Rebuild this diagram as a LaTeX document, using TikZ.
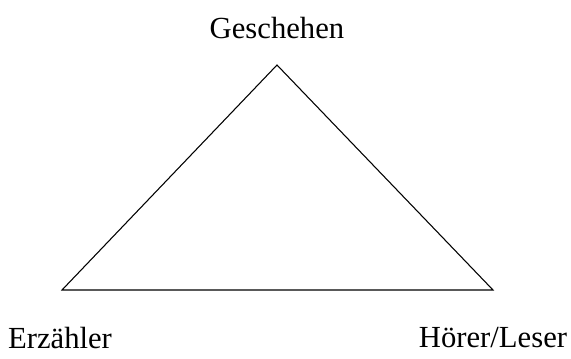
\documentclass[tikz,border=0pt]{standalone}
\usepackage{fontspec}
\setmainfont{Liberation Serif}
\usetikzlibrary{positioning}

\begin{document}
\begin{tikzpicture}[
    x=0.75pt, y=-0.75pt,
    label/.style={font=\fontsize{23}{27}\selectfont, inner sep=0pt},
    edge/.style={draw, thick}
]
    \useasboundingbox (0,0) rectangle (571,358);
    % Corners
    \coordinate (top) at (277,65);
    \coordinate (left) at (62,290);
    \coordinate (right) at (493,290);

    % Labels
    \node[label] (geschehen) at (277,28) {Geschehen};
    \node[label] (erzaehler) at (60,338) {Erzähler};
    \node[label] (hoerer) at (493,338) {Hörer/Leser};

    % Triangle
    \draw[edge] (top) -- (right) -- (left) -- cycle;
\end{tikzpicture}
\end{document}
